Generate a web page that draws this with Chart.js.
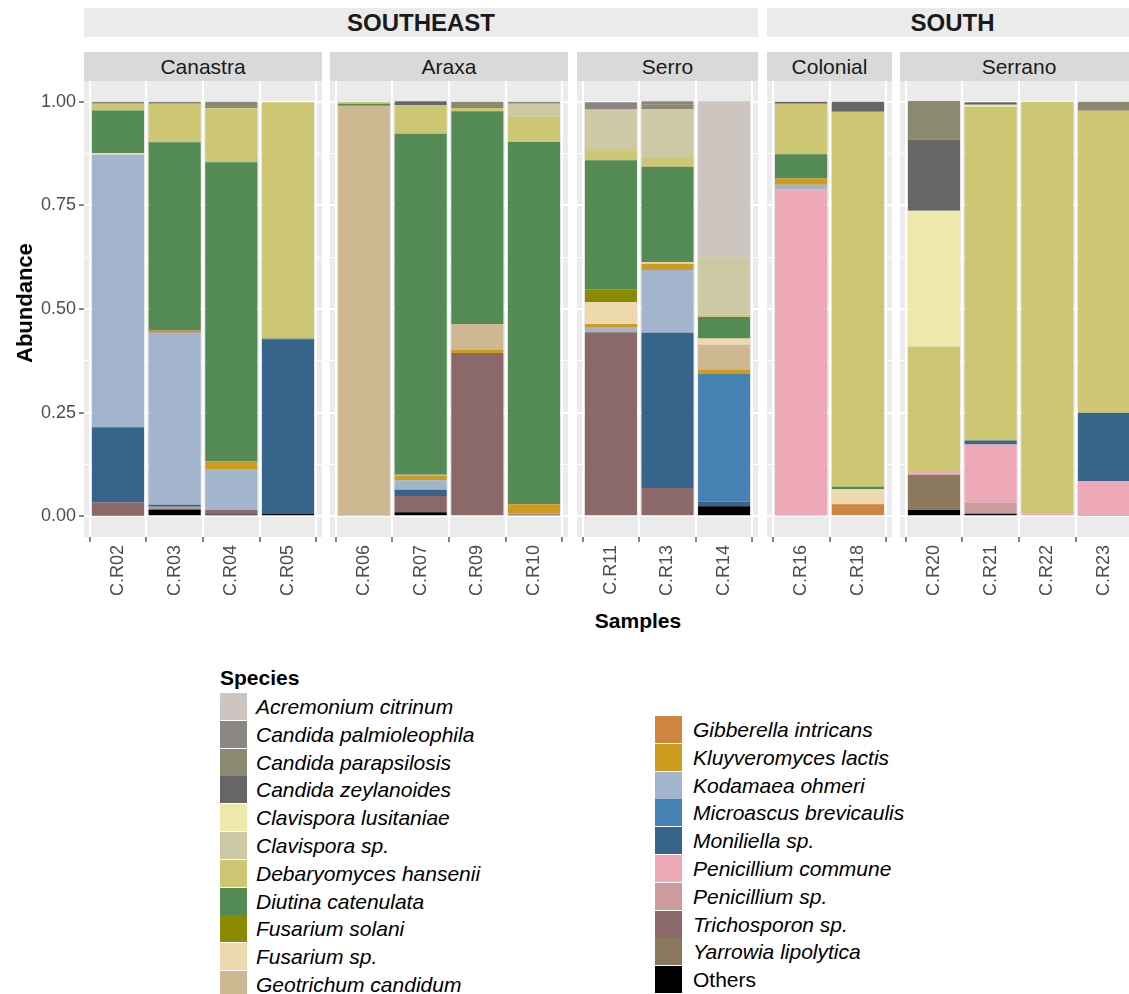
<!DOCTYPE html>
<html>
<head>
<meta charset="utf-8">
<title>Species abundance</title>
<script src="https://cdn.jsdelivr.net/npm/chart.js@4.4.1/dist/chart.umd.min.js"></script>
<style>
  body { margin: 0; width: 1129px; height: 994px; overflow: hidden; background: #fff;
         font-family: "Liberation Sans", Arial, sans-serif; position: relative; }
  .strip { position: absolute; display: flex; align-items: center; justify-content: center; color: #1a1a1a; }
  .region { background: #ebebeb; font-weight: bold; font-size: 24px; }
  .site { background: #d9d9d9; font-size: 21px; }
  .panel { position: absolute; }
  .axis-title { position: absolute; font-weight: bold; font-size: 21px; color: #000; white-space: nowrap; }
  .key { position: absolute; width: 27px; height: 27px; }
  .lab { position: absolute; font-style: italic; font-size: 21px; color: #000; white-space: nowrap; line-height: 27px; }
</style>
</head>
<body>
<script>
// samples and facets
const samples = ["C.R02", "C.R03", "C.R04", "C.R05", "C.R06", "C.R07", "C.R09", "C.R10",
  "C.R11", "C.R13", "C.R14", "C.R16", "C.R18", "C.R20", "C.R21", "C.R22", "C.R23"];
const sites = ["Canastra", "Araxa", "Serro", "Colonial", "Serrano"];
const siteSamples = [
  ["C.R02", "C.R03", "C.R04", "C.R05"],
  ["C.R06", "C.R07", "C.R09", "C.R10"],
  ["C.R11", "C.R13", "C.R14"],
  ["C.R16", "C.R18"],
  ["C.R20", "C.R21", "C.R22", "C.R23"]
];
const regions = ["SOUTHEAST", "SOUTH"];
const regionSites = [["Canastra", "Araxa", "Serro"], ["Colonial", "Serrano"]];
const yTicks = [0, 0.25, 0.5, 0.75, 1];

const species = ["Acremonium citrinum", "Candida palmioleophila", "Candida parapsilosis",
  "Candida zeylanoides", "Clavispora lusitaniae", "Clavispora sp.", "Debaryomyces hansenii",
  "Diutina catenulata", "Fusarium solani", "Fusarium sp.", "Geotrichum candidum",
  "Gibberella intricans", "Kluyveromyces lactis", "Kodamaea ohmeri", "Microascus brevicaulis",
  "Moniliella sp.", "Penicillium commune", "Penicillium sp.", "Trichosporon sp.",
  "Yarrowia lipolytica", "Others"];
const speciesColors = ["#cdc5bf", "#8b8682", "#8b8970", "#666666", "#eee8aa", "#cdc9a5", "#cdc673",
  "#548b54", "#8b8b00", "#eed8ae", "#cdb891", "#cd853f", "#cd9b1d", "#a2b5cd", "#4682b4",
  "#36648b", "#eea9b8", "#cd9b9b", "#8b6969", "#8b795e", "#000000"];

// abundance of each species, same order as `samples`
//                          R02    R03    R04    R05    R06    R07    R09    R10    R11    R13    R14    R16    R18    R20    R21    R22    R23
const acremoniumCitrinum = [0,     0,     0,     0,     0,     0,     0,     0,     0,     0,     0.375, 0,     0,     0,     0,     0,     0];
const candidaPalmio      = [0.005, 0.005, 0,     0,     0,     0,     0,     0.005, 0.018, 0.008, 0,     0,     0,     0,     0,     0,     0];
const candidaParaps      = [0,     0,     0.015, 0,     0,     0,     0.015, 0,     0,     0.011, 0,     0,     0,     0.094, 0,     0,     0.022];
const candidaZeyl        = [0,     0,     0,     0,     0,     0.009, 0,     0,     0,     0,     0,     0.005, 0.024, 0.171, 0.006, 0,     0];
const clavisporaLus      = [0,     0,     0.001, 0,     0,     0,     0,     0,     0,     0,     0,     0,     0,     0.328, 0.006, 0,     0];
const clavisporaSp       = [0,     0,     0,     0,     0,     0,     0,     0.031, 0.098, 0.118, 0.140, 0,     0,     0,     0,     0,     0];
const debaryomyces       = [0.016, 0.093, 0.130, 0.570, 0.005, 0.069, 0.008, 0.061, 0.024, 0.021, 0.005, 0.122, 0.905, 0.302, 0.804, 0.994, 0.728];
const diutina            = [0.103, 0.454, 0.722, 0.004, 0.005, 0.823, 0.513, 0.874, 0.312, 0.230, 0.052, 0.058, 0.006, 0,     0,     0,     0];
const fusariumSolani     = [0,     0,     0,     0,     0,     0,     0,     0,     0.031, 0,     0,     0,     0,     0,     0,     0,     0];
const fusariumSp         = [0.004, 0,     0,     0,     0,     0,     0,     0,     0.052, 0.004, 0.015, 0,     0.036, 0,     0,     0,     0];
const geotrichum         = [0,     0,     0,     0,     0.988, 0.003, 0.063, 0,     0,     0,     0.060, 0,     0,     0,     0,     0,     0];
const gibberella         = [0,     0.005, 0,     0,     0,     0,     0,     0,     0,     0,     0,     0,     0.026, 0,     0,     0,     0];
const kluyveromyces      = [0,     0,     0.018, 0,     0.002, 0.010, 0.007, 0.021, 0.009, 0.015, 0.011, 0.015, 0,     0,     0,     0,     0];
const kodamaea           = [0.657, 0.415, 0.099, 0,     0,     0.023, 0,     0.003, 0.011, 0.151, 0,     0.012, 0,     0,     0,     0,     0];
const microascus         = [0,     0,     0,     0,     0,     0,     0,     0,     0,     0,     0.308, 0,     0,     0,     0,     0,     0];
const moniliella         = [0.181, 0.005, 0,     0.419, 0,     0.015, 0,     0,     0,     0.375, 0.011, 0,     0,     0,     0.010, 0,     0.165];
const penicilliumCommune = [0,     0,     0,     0,     0,     0,     0,     0,     0,     0,     0,     0.785, 0.003, 0.007, 0.140, 0.006, 0.081];
const penicilliumSp      = [0,     0.004, 0,     0,     0,     0,     0,     0,     0,     0,     0,     0,     0,     0,     0.027, 0,     0.002];
const trichosporon       = [0.032, 0.003, 0.011, 0,     0,     0.039, 0.394, 0.002, 0.444, 0.068, 0,     0,     0,     0,     0,     0,     0.002];
const yarrowia           = [0,     0,     0,     0,     0,     0,     0,     0,     0,     0,     0,     0.003, 0,     0.085, 0,     0,     0];
const others             = [0.002, 0.016, 0.004, 0.006, 0,     0.010, 0,     0.003, 0,     0,     0.024, 0,     0,     0.015, 0.006, 0,     0];

const speciesValues = [acremoniumCitrinum, candidaPalmio, candidaParaps, candidaZeyl, clavisporaLus,
  clavisporaSp, debaryomyces, diutina, fusariumSolani, fusariumSp, geotrichum, gibberella,
  kluyveromyces, kodamaea, microascus, moniliella, penicilliumCommune, penicilliumSp,
  trichosporon, yarrowia, others];

// layout of the facet panels (pixels)
const panelLeft = [84, 330, 577, 767, 900];
const panelTop = 81;
const panelHeight = 456;
const unitWidth = 56.7;
const yAxisWidth = 84;
const xAxisHeight = 70;
const fontFamily = '"Liberation Sans", Arial, sans-serif';

function el(cls, css, text) {
  const d = document.createElement('div');
  d.className = cls;
  Object.assign(d.style, css);
  if (text !== undefined) d.textContent = text;
  document.body.appendChild(d);
  return d;
}

function panelWidth(p) {
  return Math.round((siteSamples[p].length + 0.2) * unitWidth);
}

// strips
regions.forEach((r, i) => {
  const ps = regionSites[i].map(s => sites.indexOf(s));
  const left = panelLeft[ps[0]];
  const last = ps[ps.length - 1];
  const right = panelLeft[last] + panelWidth(last);
  el('strip region', { left: left + 'px', top: '8px', width: (right - left) + 'px', height: '29px' }, r);
});
sites.forEach((s, p) => {
  el('strip site', { left: panelLeft[p] + 'px', top: '52px', width: panelWidth(p) + 'px', height: '29px' }, s);
});

// grey panel background
const panelBg = {
  id: 'panelBg',
  beforeDraw(chart) {
    const a = chart.chartArea;
    chart.ctx.save();
    chart.ctx.fillStyle = '#ebebeb';
    chart.ctx.fillRect(a.left, a.top, a.right - a.left, a.bottom - a.top);
    chart.ctx.restore();
  }
};

const isMajor = v => yTicks.some(t => Math.abs(t - v) < 1e-6);

siteSamples.forEach((list, p) => {
  const idx = list.map(s => samples.indexOf(s));
  const first = p === 0;
  const axisW = first ? yAxisWidth : 0;
  const w = panelWidth(p) + axisW;
  const h = panelHeight + xAxisHeight;

  const wrap = el('panel', { left: (panelLeft[p] - axisW) + 'px', top: panelTop + 'px', width: w + 'px', height: h + 'px' });
  const canvas = document.createElement('canvas');
  canvas.width = w;
  canvas.height = h;
  wrap.appendChild(canvas);

  // first species goes on top, so stack in reverse order
  const datasets = species.map((name, k) => ({
    label: name,
    data: idx.map((j, i) => ({ x: i + 1, y: speciesValues[k][j] })),
    backgroundColor: speciesColors[k],
    borderWidth: 0
  })).reverse();

  new Chart(canvas, {
    type: 'bar',
    data: { datasets },
    options: {
      responsive: false,
      animation: false,
      layout: { padding: 0 },
      plugins: { legend: { display: false }, tooltip: { enabled: false } },
      datasets: { bar: { categoryPercentage: 1, barPercentage: 0.92 } },
      scales: {
        x: {
          type: 'linear', stacked: true, offset: false,
          min: 0.4, max: list.length + 0.6,
          afterBuildTicks: s => { s.ticks = list.map((_, i) => ({ value: i + 1 })); },
          afterFit: s => { s.height = xAxisHeight; s.paddingLeft = 0; s.paddingRight = 0; },
          border: { display: false },
          grid: { color: '#ffffff', lineWidth: 2, tickColor: '#333333', tickLength: 5, tickWidth: 1.2 },
          ticks: {
            autoSkip: false, minRotation: 90, maxRotation: 90, padding: 3,
            color: '#4d4d4d', font: { size: 18, family: fontFamily },
            callback: v => list[v - 1]
          }
        },
        y: {
          type: 'linear', stacked: true, min: -0.05, max: 1.05,
          afterBuildTicks: s => {
            const t = [];
            for (let i = 0; i <= 8; i++) t.push({ value: i * 0.125 });
            s.ticks = t;
          },
          afterFit: s => { s.width = axisW; s.paddingTop = 0; s.paddingBottom = 0; },
          border: { display: false },
          grid: {
            color: '#ffffff',
            lineWidth: c => isMajor(c.tick.value) ? 2 : 1.1,
            tickColor: c => (first && isMajor(c.tick.value)) ? '#333333' : 'rgba(0,0,0,0)',
            tickLength: 5, tickWidth: 1.2
          },
          ticks: {
            display: first, padding: 3, color: '#4d4d4d',
            font: { size: 18, family: fontFamily },
            callback: v => isMajor(v) ? v.toFixed(2) : ''
          }
        }
      }
    },
    plugins: [panelBg]
  });
});

// axis titles
el('axis-title', { left: '25px', top: '303px', fontSize: '22px', transform: 'translate(-50%, -50%) rotate(-90deg)' }, 'Abundance');
el('axis-title', { left: '638px', top: '621px', transform: 'translate(-50%, -50%)' }, 'Samples');

// legend
el('axis-title', { left: '220px', top: '666px' }, 'Species');
const rowH = 27.8;
species.forEach((name, k) => {
  const col = k < 11 ? 0 : 1;
  const row = col === 0 ? k : k - 11;
  const keyLeft = col === 0 ? 219.5 : 655;
  const textLeft = col === 0 ? 256 : 693;
  const top = (col === 0 ? 693 : 716) + row * rowH;
  el('key', { left: keyLeft + 'px', top: top + 'px', background: speciesColors[k] });
  const lab = el('lab', { left: textLeft + 'px', top: top + 'px' }, name);
  if (name === 'Others') lab.style.fontStyle = 'normal';
});
</script>
</body>
</html>
